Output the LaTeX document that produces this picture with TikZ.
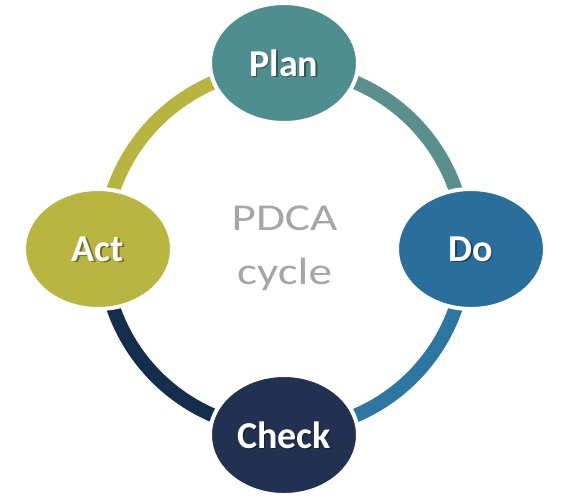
\documentclass[tikz,border=0pt]{standalone}
\usepackage{fontspec}
\setmainfont{Carlito}
\usetikzlibrary{shapes.geometric}
\definecolor{planfill}{HTML}{4F8E8E}
\definecolor{pdarc}{HTML}{5A8F8D}
\definecolor{dofill}{HTML}{2A6E9B}
\definecolor{dcarc}{HTML}{2D76A2}
\definecolor{checkfill}{HTML}{223152}
\definecolor{caarc}{HTML}{142D4C}
\definecolor{actfill}{HTML}{B8B540}
\definecolor{aparc}{HTML}{B7B53F}
\definecolor{titlegray}{HTML}{A6A6A6}
\tikzset{
  phase/.style={ellipse, draw=white, line width=4pt, minimum width=148pt, minimum height=120pt, inner sep=0pt},
  ring/.style={line width=14pt},
  lbl/.style={font=\fontsize{38}{40}\selectfont\bfseries, text=white, inner sep=0pt},
  shadowlbl/.style={font=\fontsize{38}{40}\selectfont\bfseries, text=black, opacity=0.4, inner sep=0pt},
}
\begin{document}
\begin{tikzpicture}[x=1pt,y=-1pt]
\useasboundingbox (0,0) rectangle (569,499);
\coordinate (c) at (284.5,249);
% ring arcs (y axis points down, so angles are mirrored)
\draw[ring, pdarc] ([shift={(-90:181)}]c) arc[start angle=-90, end angle=0, radius=181];
\draw[ring, dcarc] ([shift={(0:181)}]c) arc[start angle=0, end angle=90, radius=181];
\draw[ring, caarc] ([shift={(90:181)}]c) arc[start angle=90, end angle=180, radius=181];
\draw[ring, aparc] ([shift={(180:181)}]c) arc[start angle=180, end angle=270, radius=181];
% phases
\node[phase, fill=planfill] (plan) at (284,63) {};
\node[phase, fill=dofill] (do) at (471,249) {};
\node[phase, fill=checkfill] (check) at (284,435) {};
\node[phase, fill=actfill] (act) at (98,249) {};
% labels
\foreach \n/\t in {plan/Plan, do/Do, check/Check, act/Act}{
  \node[shadowlbl] at ([shift={(1.2,1.5)}]\n.center) {\t};
  \node[lbl] (\n-text) at (\n.center) {\t};
}
\node[font=\fontsize{38}{54}\selectfont, text=titlegray, align=center, xscale=1.24, inner sep=0pt] (title) at (284.5,248) {PDCA\\cycle};
\end{tikzpicture}
\end{document}
